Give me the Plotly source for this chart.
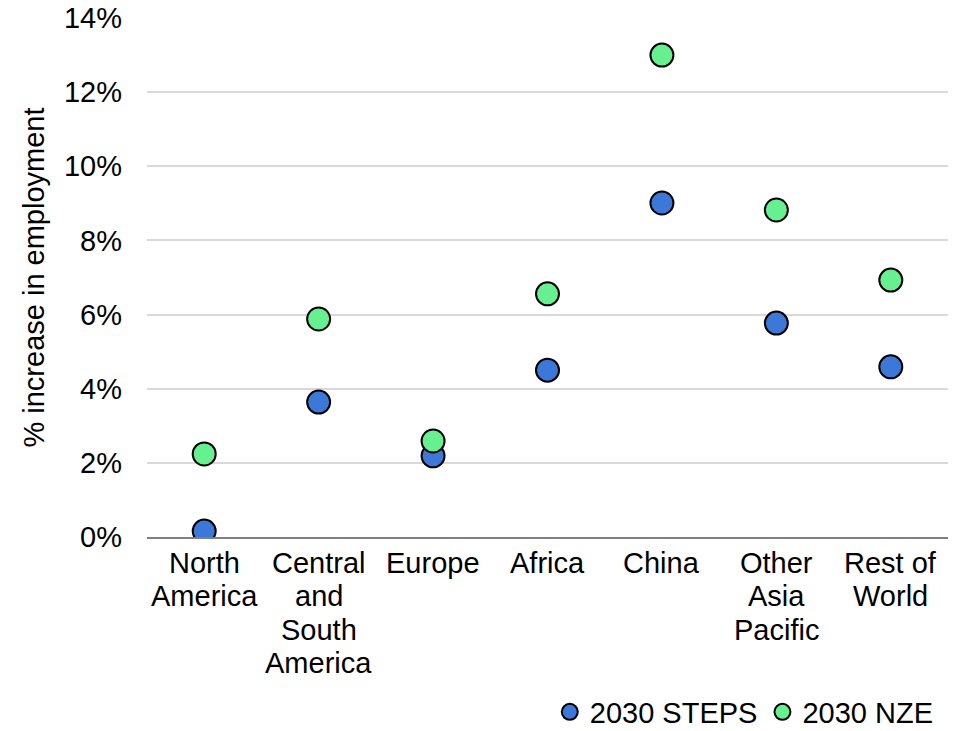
import plotly.graph_objects as go

# regions and values (% increase in employment)
regions = ["North America", "Central and South America", "Europe", "Africa",
           "China", "Other Asia Pacific", "Rest of World"]
region_labels = [["North", "America"], ["Central", "and", "South", "America"],
                 ["Europe"], ["Africa"], ["China"], ["Other", "Asia", "Pacific"],
                 ["Rest of", "World"]]
steps_2030 = [0.0016, 0.0364, 0.0219, 0.0450, 0.0901, 0.0577, 0.0459]
nze_2030 = [0.0224, 0.0588, 0.0259, 0.0656, 0.1300, 0.0882, 0.0693]
y_ticks = [0, 0.02, 0.04, 0.06, 0.08, 0.10, 0.12, 0.14]

FONT = "Liberation Sans, Arial, sans-serif"
FS = 29

fig = go.Figure()
fig.add_trace(go.Scatter(
    x=regions, y=steps_2030, mode="markers", name="2030 STEPS",
    marker=dict(size=23, color="#3C78D8", line=dict(color="black", width=2)),
))
fig.add_trace(go.Scatter(
    x=regions, y=nze_2030, mode="markers", name="2030 NZE",
    marker=dict(size=23, color="#66F08F", line=dict(color="black", width=2)),
))

# category labels as multi-line annotations (spacing as in the original)
for reg, lines in zip(regions, region_labels):
    for i, line in enumerate(lines):
        fig.add_annotation(x=reg, y=0, yref="paper", text=line, showarrow=False,
                           yanchor="middle", yshift=-(26 + 33.4 * i),
                           font=dict(family=FONT, size=FS, color="black"))

fig.update_layout(
    width=956, height=731,
    margin=dict(l=147, r=8, t=18, b=194, autoexpand=False),
    plot_bgcolor="white", paper_bgcolor="white",
    font=dict(family=FONT, size=FS, color="black"),
    legend=dict(orientation="h", xref="container", yref="container",
                x=0.982, xanchor="right", y=0.026, yanchor="middle",
                font=dict(size=FS), itemsizing="trace", itemwidth=30,
                tracegroupgap=0, traceorder="normal"),
    showlegend=True,
)
fig.update_xaxes(showticklabels=False, showgrid=False, showline=True,
                 linecolor="#7f7f7f", linewidth=1.5, ticks="",
                 range=[-0.5, 6.5], automargin=False)
fig.update_yaxes(range=[0, 0.14], tickvals=y_ticks, tickformat=".0%",
                 showgrid=True, gridcolor="#d9d9d9", gridwidth=1.5,
                 zeroline=False, showline=False, ticks="",
                 ticklabelstandoff=24, ticklabeloverflow="allow",
                 automargin=False,
                 title=dict(text="% increase in employment", standoff=10,
                            font=dict(size=FS)))

# drop the default 8px page margin so the figure fills the window exactly
fig.write_html("out.html", config={"displayModeBar": False},
               post_script="document.body.style.margin='0';")
